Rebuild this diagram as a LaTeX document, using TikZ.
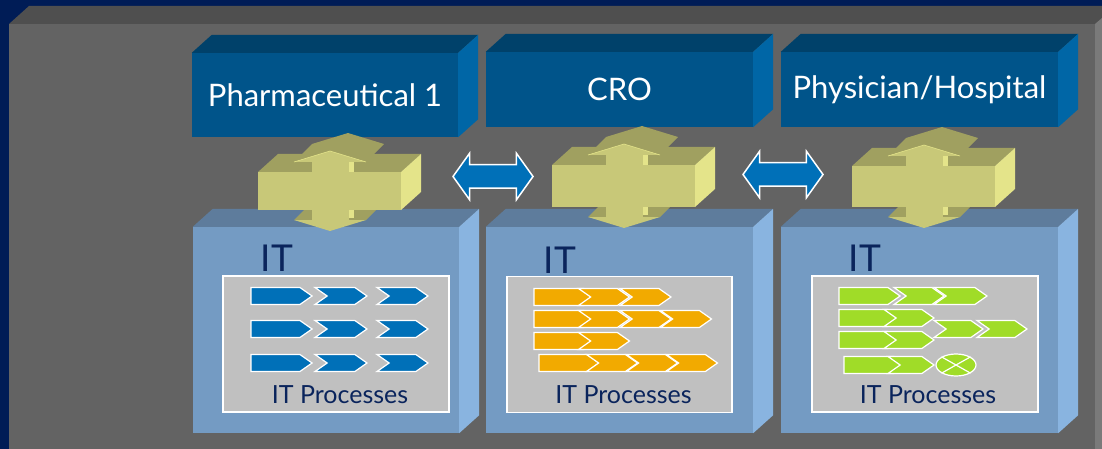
\documentclass[tikz,border=0pt]{standalone}
\usepackage{fontspec}
\setmainfont{Lato}
\usetikzlibrary{positioning,shapes.arrows,shapes.symbols,shapes.geometric}
\definecolor{navy}{RGB}{0,28,86}
\definecolor{panelfront}{RGB}{99,99,99}
\definecolor{paneltop}{RGB}{79,79,79}
\definecolor{panelside}{RGB}{122,122,122}
\definecolor{topfront}{RGB}{0,84,138}
\definecolor{toptop}{RGB}{0,65,106}
\definecolor{topside}{RGB}{0,102,166}
\definecolor{itfront}{RGB}{116,155,195}
\definecolor{ittop}{RGB}{94,124,156}
\definecolor{itside}{RGB}{137,180,224}
\definecolor{itnavy}{RGB}{10,36,92}
\definecolor{crossfront}{RGB}{200,200,120}
\definecolor{crosstop}{RGB}{160,160,96}
\definecolor{crossside}{RGB}{228,228,138}
\definecolor{linkblue}{RGB}{0,112,184}
\definecolor{procorange}{RGB}{242,170,0}
\definecolor{procgreen}{RGB}{160,220,40}
\definecolor{procgray}{RGB}{192,192,192}
\tikzset{
    %Define style for the boxes
    topbox/.style={
           rectangle,
           fill=topfront,
           inner sep=0pt,
           text=white,
           font=\fontsize{31}{36}\selectfont,
           },
    itbox/.style={
           rectangle,
           fill=itfront,
           inner sep=0pt,
           },
    procpanel/.style={
           rectangle,
           fill=procgray,
           draw=white, line width=1.5pt,
           inner sep=0pt,
           },
    itlabel/.style={text=itnavy, inner sep=0pt, font=\fontsize{37}{40}\selectfont},
    proclabel/.style={text=itnavy, inner sep=0pt, font=\fontsize{25}{28}\selectfont},
    % Define process steps
    pent/.style={
           signal, signal to=east,
           signal pointer angle=70,
           draw=white, line width=1.2pt,
           minimum height=17pt,
           inner sep=0pt,
           },
    chev/.style={pent, signal from=west},
    endmark/.style={ellipse, draw=white, line width=1.2pt, fill=procgreen,
           minimum width=40pt, minimum height=22pt, inner sep=0pt},
    % Define link style
    link/.style={
           double arrow,
           fill=linkblue,
           draw=white, line width=1.5pt,
           minimum height=80pt,
           inner xsep=0pt, inner ysep=11pt,
           double arrow head extend=11.5pt,
           double arrow tip angle=109,
           },
}
% top and side faces of a box node
\newcommand{\faces}[3]{%
  \fill[#2] (#1.north west) -- ++(20,-18) -- ([shift={(20,-18)}]#1.north east) -- (#1.north east) -- cycle;
  \fill[#3] (#1.north east) -- ++(20,-18) -- ([shift={(20,-18)}]#1.south east) -- (#1.south east) -- cycle;}
% 3d cross arrow
\newcommand{\crossarrow}[3]{%
  \begin{scope}[shift={(#1,#2)}]
  \fill[crosstop] (0,0) -- (20,-18) -- (163,-18) -- (143,0) -- cycle;
  \fill[crosstop] (36,-10) -- (54,-28) -- (90,-39) -- (126,-28) -- (108,-10) -- (72,-21) -- cycle;
  \fill[crosstop] (36,#3+10) -- (54,#3-8) -- (126,#3-8) -- (108,#3+10) -- cycle;
  \fill[crossside] (90.5,-14) rectangle (96,#3+8);
  \fill[crossfront] (53.5,-12) rectangle (90.5,#3+12);
  \fill[crossfront] (36,-10) -- (72,-21) -- (108,-10) -- cycle;
  \fill[crossfront] (36,#3+10) -- (72,#3+21) -- (108,#3+10) -- cycle;
  \draw[crossside, line width=0.6pt] (36,-10) -- (72,-21) -- (108,-10);
  \fill[crossfront] (0,0) rectangle (143,#3);
  \fill[crossside] (143,0) -- (163,-18) -- (163,#3-18) -- (143,#3) -- cycle;
  \end{scope}}

\begin{document}
\begin{tikzpicture}[x=1pt,y=-1pt]
\useasboundingbox (0,0) rectangle (1102,449);
% background panel
\fill[navy] (0,0) rectangle (1102,449);
\fill[paneltop] (9,24) -- (29,6) -- (1102,6) -- (1102,24) -- cycle;
\fill[panelfront] (9,24) rectangle (1095,449);
\fill[panelside] (1095,24) -- (1102,18) -- (1102,449) -- (1095,449) -- cycle;

% organisations
\node[topbox, minimum width=266pt, minimum height=84pt] (pharma) at (325,95) {Pharmaceutical 1};
\node[topbox, minimum width=267pt, minimum height=75pt] (cro) at (619.5,89.5) {CRO};
\node[topbox, minimum width=277pt, minimum height=75pt] (hosp) at (919.5,89.5) {Physician/Hospital};
\faces{pharma}{toptop}{topside}
\faces{cro}{toptop}{topside}
\faces{hosp}{toptop}{topside}

% IT boxes
\node[itbox, minimum width=266pt, minimum height=206pt] (it1) at (326,330) {};
\node[itbox, minimum width=267pt, minimum height=206pt] (it2) at (619.5,330) {};
\node[itbox, minimum width=277pt, minimum height=206pt] (it3) at (919.5,330) {};
\faces{it1}{ittop}{itside}
\faces{it2}{ittop}{itside}
\faces{it3}{ittop}{itside}

% interfaces
\crossarrow{258}{172}{38}
\crossarrow{552}{165}{42}
\crossarrow{852}{166}{41}

\node[link] (l12) at (493,176.5) {};
\node[link] (l23) at (783,174.5) {};

% IT contents
\node[itlabel] (itl1) at (277,258) {IT};
\node[itlabel] (itl2) at (560,260) {IT};
\node[itlabel] (itl3) at (865,258) {IT};
\node[procpanel, minimum width=226pt, minimum height=136pt] (pp1) at (336,344) {};
\node[procpanel, minimum width=225pt, minimum height=136pt] (pp2) at (619.5,344.5) {};
\node[procpanel, minimum width=226pt, minimum height=136pt] (pp3) at (925,344) {};

\foreach \r/\y in {1/296,2/329,3/363}{
  \node[pent, fill=linkblue, minimum width=61pt] (a\r) at (275.5,\y) {};
  \node[chev, fill=linkblue, minimum width=52pt] (b\r) at (341,\y) {};
  \node[chev, fill=linkblue, minimum width=51pt] (c\r) at (402.5,\y) {};
}

\foreach \r/\y/\n in {1/297/2,2/319/3,3/341/1}{
  \node[pent, fill=procorange, minimum width=62pt] (o\r) at (559,\y) {};
  \foreach \k/\cx in {1/604,2/645.5,3/686}{
    \ifnum\k>\n\else
      \node[chev, fill=procorange, minimum width=51pt] (o\r-\k) at (\cx,\y) {};
    \fi
  }
}
\node[pent, fill=procorange, minimum width=60pt] (o4) at (563,363) {};
\foreach \k/\cx in {1/612,2/652,3/692}
  \node[chev, fill=procorange, minimum width=51pt] (o4-\k) at (\cx,363) {};

\node[pent, fill=procgreen, minimum width=61pt] (g1) at (863.5,296) {};
\node[chev, fill=procgreen, minimum width=50pt] (g1-1) at (919,296) {};
\node[chev, fill=procgreen, minimum width=53pt] (g1-2) at (960.5,296) {};
\node[chev, fill=procgreen, minimum width=49pt] (g5-1) at (958.5,329) {};
\node[chev, fill=procgreen, minimum width=50pt] (g5-2) at (1002,329) {};
\foreach \r/\y in {2/318,3/340}{
  \node[pent, fill=procgreen, minimum width=61pt] (g\r) at (863.5,\y) {};
  \node[chev, fill=procgreen, minimum width=50pt] (g\r-1) at (909,\y) {};
}
\node[pent, fill=procgreen, minimum width=62pt] (g4) at (869,365) {};
\node[chev, fill=procgreen, minimum width=46pt] (g4-1) at (911,365) {};
\node[endmark] (stop) at (956,365) {};
\draw[white, line width=1.2pt] (stop.north west) -- (stop.south east)
                               (stop.north east) -- (stop.south west);

\node[proclabel] (pl1) at (340,395) {IT Processes};
\node[proclabel] (pl2) at (623.5,395) {IT Processes};
\node[proclabel] (pl3) at (928,395) {IT Processes};
\end{tikzpicture}
\end{document}
